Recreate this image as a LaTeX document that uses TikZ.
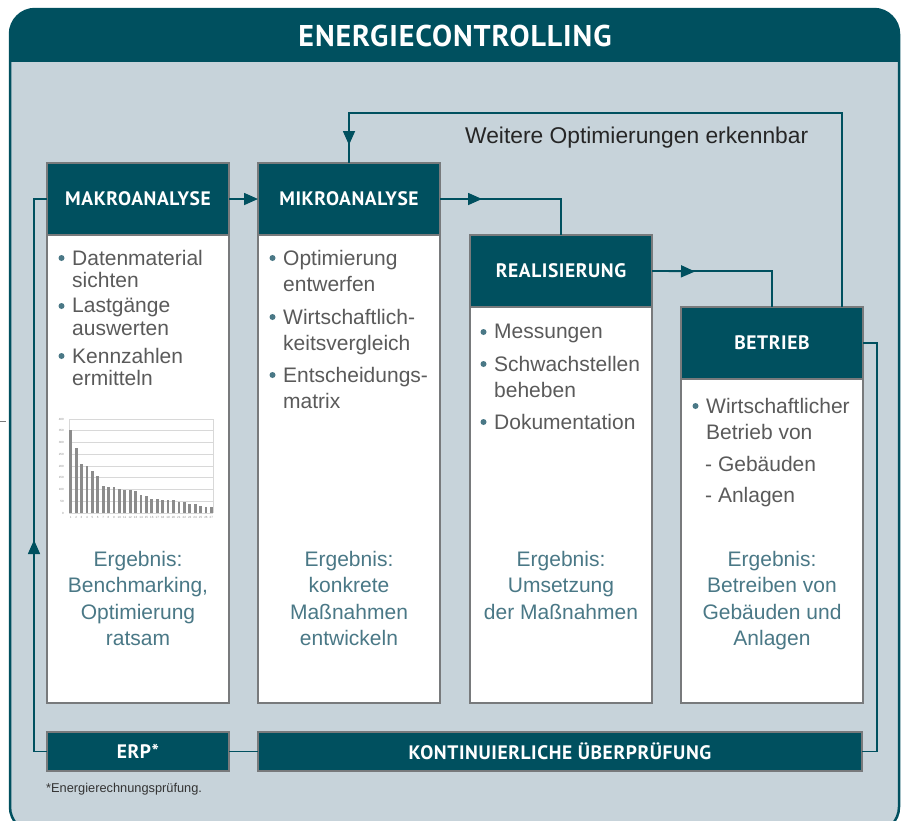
\documentclass[tikz,border=0pt]{standalone}
\usepackage{fontspec}
\setmainfont{Liberation Sans}
\newfontfamily\headfont[LetterSpace=3.0]{PT Sans}
\usetikzlibrary{positioning,arrows.meta}
\definecolor{cdark}{RGB}{0,80,95}
\definecolor{cbody}{RGB}{199,211,218}
\definecolor{cborder}{RGB}{120,122,124}
\definecolor{ctext}{RGB}{90,90,90}
\definecolor{cresult}{RGB}{74,120,134}
\definecolor{cgrid}{RGB}{216,216,216}
\definecolor{cbar}{RGB}{140,140,140}
\pgfmathsetmacro{\stepboxwidth}{182}
\pgfmathsetmacro{\stepheadht}{72}
\pgfmathsetmacro{\barstep}{5.41}
\newcommand{\headsize}{\headfont\bfseries\fontsize{19.5}{21}\selectfont}
\tikzset{
  boxhead/.style={draw=cborder, line width=1.8pt, fill=cdark, text=white,
    inner sep=0pt, outer sep=0pt, minimum width=\stepboxwidth,
    minimum height=\stepheadht, font=\headsize},
  boxbody/.style={draw=cborder, line width=1.8pt, fill=white,
    inner sep=0pt, outer sep=0pt, minimum width=\stepboxwidth},
  barbox/.style={draw=cborder, line width=1.8pt, fill=cdark, text=white,
    inner sep=0pt, outer sep=0pt, minimum height=39, font=\headsize},
  conn/.style={draw=cdark, line width=1.6pt},
  arrowtip/.style={-{Triangle[length=14pt,width=12pt]}},
  itemtext/.style={anchor=north west, inner sep=0pt, align=left, text=ctext},
  resulttext/.style={anchor=north, inner sep=0pt, align=center, text=cresult,
    font=\fontsize{21}{26.5}\selectfont},
  bulletdot/.style={fill=cresult},
  ticklabel/.style={inner sep=0pt, text=cbar, font=\fontsize{3}{3.5}\selectfont},
}

\begin{document}
\begin{tikzpicture}[x=1pt, y=-1pt]
    \useasboundingbox (0,0) rectangle (907,820);
    % frame and header
    \begin{scope}
        \clip[rounded corners=25pt] (10,9) rectangle (899,832);
        \fill[cbody] (10,9) rectangle (899,832);
        \fill[cdark] (10,9) rectangle (899,62);
    \end{scope}
    \draw[cdark, line width=2.5pt, rounded corners=25pt] (10,9) rectangle (899,832);
    \node[text=white, font=\headfont\bfseries\fontsize{30}{33}\selectfont] (title) at (455,36) {ENERGIECONTROLLING};
    \draw[cborder, line width=0.8pt] (0,421) -- (6,421);
    % define boxes
    \node[boxhead, anchor=north west] (makro) at (47,163) {MAKROANALYSE};
    \node[boxhead, right=29pt of makro] (mikro) {MIKROANALYSE};
    \node[boxhead, below right=72pt and 30pt of mikro.north east] (real) {REALISIERUNG};
    \node[boxhead, below right=72pt and 29pt of real.north east] (betrieb) {BETRIEB};
    \node[boxbody, below=0pt of makro, minimum height=468] (makrobody) {};
    \node[boxbody, below=0pt of mikro, minimum height=468] (mikrobody) {};
    \node[boxbody, below=0pt of real, minimum height=396] (realbody) {};
    \node[boxbody, below=0pt of betrieb, minimum height=324] (betriebbody) {};
    % redraw heads over the bodies
    \node[boxhead] (makrotop) at (makro) {MAKROANALYSE};
    \node[boxhead] (mikrotop) at (mikro) {MIKROANALYSE};
    \node[boxhead] (realtop) at (real) {REALISIERUNG};
    \node[boxhead] (betriebtop) at (betrieb) {BETRIEB};
    % bottom bars
    \node[barbox, anchor=north west, minimum width=\stepboxwidth] (erp) at (47,732) {ERP*};
    \node[barbox, anchor=north west, minimum width=604] (kont) at (258,732) {KONTINUIERLICHE ÜBERPRÜFUNG};
    \node[anchor=base west, inner sep=0pt, text=black!80, font=\fontsize{12.8}{14}\selectfont] (fnote) at (46,792) {*Energierechnungsprüfung.};
    % bullet items
    \node[itemtext, font=\fontsize{21}{22.5}\selectfont] (mk1) at (72,250) {Datenmaterial\\sichten};
    \node[itemtext, font=\fontsize{21}{22.5}\selectfont] (mk2) at (72,298) {Lastgänge\\auswerten};
    \node[itemtext, font=\fontsize{21}{22.5}\selectfont] (mk3) at (72,348) {Kennzahlen\\ermitteln};
    \node[itemtext, font=\fontsize{21}{26.5}\selectfont] (mi1) at (283,250) {Optimierung\\entwerfen};
    \node[itemtext, font=\fontsize{21}{26.5}\selectfont] (mi2) at (283,309) {Wirtschaftlich-\\keitsvergleich};
    \node[itemtext, font=\fontsize{21}{26.5}\selectfont] (mi3) at (283,367) {Entscheidungs-\\matrix};
    \node[itemtext, font=\fontsize{21}{26}\selectfont] (re1) at (494,324) {Messungen};
    \node[itemtext, font=\fontsize{21}{26}\selectfont] (re2) at (494,356) {Schwachstellen\\beheben};
    \node[itemtext, font=\fontsize{21}{26}\selectfont] (re3) at (494,414) {Dokumentation};
    \node[itemtext, font=\fontsize{21}{26}\selectfont] (be1) at (706,398) {Wirtschaftlicher\\Betrieb von};
    \node[itemtext, font=\fontsize{21}{26}\selectfont] (be2) at (705,456) {- Gebäuden};
    \node[itemtext, font=\fontsize{21}{26}\selectfont] (be3) at (705,487) {- Anlagen};
    \foreach \n in {mk1,mk2,mk3,mi1,mi2,mi3,re1,re2,re3,be1}
        \fill[bulletdot] ([xshift=-10.5pt,yshift=-8pt]\n.north west) circle[radius=3pt];
    % results
    \node[resulttext] (mkres) at (makrobody.north |- 0,551) {Ergebnis:\\Benchmarking,\\Optimierung\\ratsam};
    \node[resulttext] (mires) at (mikrobody.north |- 0,551) {Ergebnis:\\konkrete\\Maßnahmen\\entwickeln};
    \node[resulttext] (reres) at (realbody.north |- 0,551) {Ergebnis:\\Umsetzung\\der Maßnahmen};
    \node[resulttext] (beres) at (betriebbody.north |- 0,551) {Ergebnis:\\Betreiben von\\Gebäuden und\\Anlagen};
    % chart
    \foreach \g in {0,50,...,400} {
        \draw[cgrid, line width=0.6pt] (69,{513-\g*0.235}) -- (213,{513-\g*0.235});
        \node[ticklabel, anchor=east] (yl\g) at (64,{513-\g*0.235}) {\g};
    }
    \draw[cgrid, line width=0.6pt] (69,419) -- (69,513) (213,419) -- (213,513);
    \foreach \v [count=\i] in {354,276,210,198,177,159,116,111,111,102,96,96,92,77,74,60,60,57,57,57,48,48,40,40,31,25,25} {
        \fill[cbar] ({70.7+(\i-1)*\barstep-1.4},513) rectangle ({70.7+(\i-1)*\barstep+1.4},{513-\v*0.235});
        \node[ticklabel] (xl\i) at ({70.7+(\i-1)*\barstep},517) {\i};
    }
    % draw connectors
    \coordinate (mikrotip) at (482,199);
    \coordinate (realtip) at (695,271.5);
    \coordinate (looptop) at (0,113);
    \coordinate (looptip) at (0,145);
    \coordinate (uptail) at (34,600);
    \coordinate (uptip) at (34,540);
    \draw[conn, arrowtip] (makro.east) -- (mikro.west);
    \draw[conn] (mikro.east) -| (real.north);
    \draw[conn, arrowtip] (mikro.east) -- (mikrotip);
    \draw[conn] (real.east) -| (betrieb.north);
    \draw[conn, arrowtip] (real.east) -- (realtip);
    \draw[conn] ([xshift=70pt]betrieb.north) |- (looptop -| mikro.north) -- (mikro.north);
    \draw[conn, arrowtip] (looptop -| mikro.north) -- (looptip -| mikro.north);
    \draw[conn] (betrieb.east) -- ++(14,0) |- (kont.east);
    \draw[conn] (kont.west) -- (erp.east);
    \draw[conn] (erp.west) -- ++(-13,0) |- (makro.west);
    \draw[conn, arrowtip] (uptail) -- (uptip);
    % add labels
    \node[anchor=base west, inner sep=0pt, text=black!85, font=\fontsize{22.8}{25}\selectfont] (weitere) at (465,143) {Weitere Optimierungen erkennbar};
\end{tikzpicture}
\end{document}
